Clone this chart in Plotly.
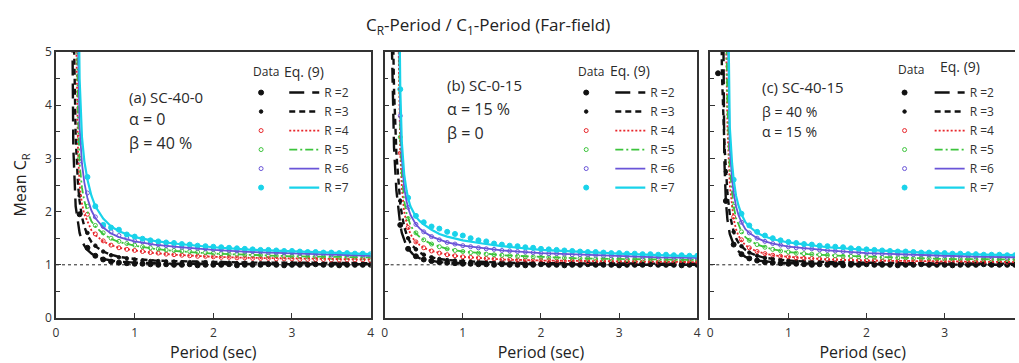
import plotly.graph_objects as go

N = None
FONT = "Open Sans"

# ---------------- data ----------------
PERIOD_LINE = [0.08, 0.1, 0.12, 0.15, 0.18, 0.2, 0.22, 0.25, 0.28, 0.3, 0.33, 0.36, 0.4,
               0.45, 0.5, 0.6, 0.7, 0.8, 1.0, 1.25, 1.5, 2.0, 2.5, 3.0, 3.5, 4.0]
PERIOD_DATA = [0.1, 0.2, 0.3, 0.4, 0.5, 0.6, 0.7, 0.8, 0.9, 1.0,
               1.1, 1.2, 1.3, 1.4, 1.5, 1.6, 1.7, 1.8, 1.9, 2.0,
               2.1, 2.2, 2.3, 2.4, 2.5, 2.6, 2.7, 2.8, 2.9, 3.0,
               3.1, 3.2, 3.3, 3.4, 3.5, 3.6, 3.7, 3.8, 3.9, 4.0]
R_VALUES = [2, 3, 4, 5, 6, 7]
R_LABELS = ["R =2", "R =3", "R =4", "R =5", "R =6", "R =7"]
X_TICKS = [0, 1, 2, 3, 4]
Y_TICKS = [0, 1, 2, 3, 4, 5]
REF_Y = 1.0

# Eq. (9) curves, panel (a) SC-40-0
LINE_A = {
    2: [N, N, N, N, N, 7.0, 3.2, 2.1, 1.75, 1.6, 1.45, 1.36, 1.28, 1.21, 1.17, 1.11, 1.08, 1.06, 1.04, 1.03, 1.02, 1.02, 1.01, 1.01, 1.01, 1.01],
    3: [N, N, N, N, N, N, 6.0, 3.4, 2.5, 2.2, 1.9, 1.72, 1.56, 1.43, 1.35, 1.25, 1.19, 1.15, 1.11, 1.08, 1.07, 1.05, 1.04, 1.04, 1.03, 1.03],
    4: [N, N, N, N, N, N, N, 6.0, 3.1, 2.5, 2.15, 1.95, 1.8, 1.65, 1.56, 1.44, 1.37, 1.32, 1.27, 1.22, 1.19, 1.15, 1.13, 1.12, 1.11, 1.1],
    5: [N, N, N, N, N, N, N, 7.0, 3.8, 2.9, 2.45, 2.2, 2.0, 1.82, 1.72, 1.58, 1.49, 1.43, 1.36, 1.3, 1.26, 1.21, 1.18, 1.16, 1.15, 1.14],
    6: [N, N, N, N, N, N, N, N, 5.2, 3.6, 2.9, 2.55, 2.25, 2.02, 1.88, 1.7, 1.59, 1.52, 1.44, 1.38, 1.34, 1.28, 1.24, 1.21, 1.19, 1.17],
    7: [N, N, N, N, N, N, N, N, 7.0, 4.5, 3.4, 2.95, 2.6, 2.3, 2.1, 1.87, 1.72, 1.63, 1.52, 1.45, 1.4, 1.33, 1.28, 1.25, 1.22, 1.2],
}
# Eq. (9) curves, panel (b) SC-0-15
LINE_B = {
    2: [6.0, 4.2, 3.2, 2.4, 1.95, 1.75, 1.6, 1.45, 1.35, 1.3, 1.24, 1.2, 1.16, 1.12, 1.1, 1.07, 1.05, 1.04, 1.03, 1.02, 1.02, 1.01, 1.01, 1.0, 1.0, 1.0],
    3: [N, 6.0, 4.3, 3.1, 2.45, 2.15, 1.95, 1.72, 1.57, 1.5, 1.41, 1.35, 1.29, 1.23, 1.19, 1.14, 1.11, 1.09, 1.07, 1.05, 1.04, 1.03, 1.03, 1.02, 1.02, 1.02],
    4: [N, N, N, N, 5.0, 3.1, 2.45, 2.0, 1.79, 1.69, 1.58, 1.5, 1.43, 1.37, 1.32, 1.26, 1.22, 1.19, 1.15, 1.12, 1.1, 1.08, 1.07, 1.06, 1.06, 1.05],
    5: [N, N, N, N, 5.5, 3.4, 2.7, 2.2, 1.97, 1.86, 1.75, 1.67, 1.59, 1.52, 1.47, 1.39, 1.34, 1.3, 1.25, 1.21, 1.18, 1.15, 1.12, 1.11, 1.1, 1.09],
    6: [N, N, N, N, 6.0, 3.8, 3.0, 2.45, 2.2, 2.07, 1.94, 1.85, 1.76, 1.68, 1.62, 1.53, 1.47, 1.42, 1.36, 1.31, 1.27, 1.22, 1.19, 1.16, 1.14, 1.13],
    7: [N, N, N, N, 7.0, 4.3, 3.3, 2.7, 2.4, 2.25, 2.1, 2.0, 1.9, 1.82, 1.76, 1.66, 1.58, 1.53, 1.46, 1.4, 1.35, 1.28, 1.24, 1.21, 1.18, 1.16],
}
# Eq. (9) curves, panel (c) SC-40-15
LINE_C = {
    2: [N, N, N, 9.0, 3.0, 2.2, 1.85, 1.58, 1.45, 1.38, 1.3, 1.25, 1.2, 1.15, 1.12, 1.08, 1.06, 1.05, 1.03, 1.02, 1.02, 1.01, 1.01, 1.0, 1.0, 1.0],
    3: [N, N, 9.0, 4.6, 3.3, 2.8, 2.35, 1.95, 1.72, 1.62, 1.5, 1.42, 1.35, 1.28, 1.23, 1.17, 1.13, 1.11, 1.08, 1.06, 1.05, 1.04, 1.03, 1.03, 1.02, 1.02],
    4: [N, N, N, N, N, 5.5, 3.6, 2.5, 2.05, 1.86, 1.67, 1.55, 1.45, 1.37, 1.32, 1.25, 1.21, 1.18, 1.15, 1.12, 1.1, 1.08, 1.07, 1.06, 1.06, 1.05],
    5: [N, N, N, N, N, 6.0, 4.0, 2.8, 2.3, 2.1, 1.88, 1.75, 1.62, 1.52, 1.46, 1.38, 1.33, 1.29, 1.24, 1.2, 1.18, 1.15, 1.13, 1.11, 1.1, 1.1],
    6: [N, N, N, N, N, N, 6.0, 3.2, 2.6, 2.35, 2.1, 1.94, 1.8, 1.67, 1.6, 1.5, 1.44, 1.4, 1.34, 1.3, 1.27, 1.22, 1.19, 1.17, 1.15, 1.14],
    7: [N, N, N, N, N, N, 7.0, 3.6, 2.9, 2.6, 2.3, 2.12, 1.95, 1.8, 1.72, 1.6, 1.53, 1.48, 1.42, 1.37, 1.33, 1.28, 1.24, 1.21, 1.19, 1.18],
}

# Data (mean C_R), panel (a)
DATA_A = {
    2: [N, N, 1.95, 1.32, 1.17, 1.1, 1.06, 1.04, 1.03, 1.02,
        1.02, 1.01, 1.0, 1.01, 1.0, 1.0, 1.01, 0.99, 1.0, 1.0,
        1.0, 1.01, 0.99, 1.0, 1.0, 1.0, 1.01, 1.0, 0.99, 1.0,
        1.0, 1.0, 1.01, 1.0, 1.0, 0.99, 1.0, 1.0, 1.0, 1.0],
    3: [N, N, 2.3, 1.6, 1.36, 1.25, 1.18, 1.14, 1.12, 1.1,
        1.08, 1.07, 1.07, 1.06, 1.06, 1.05, 1.05, 1.04, 1.05, 1.04,
        1.04, 1.04, 1.03, 1.04, 1.03, 1.03, 1.03, 1.03, 1.02, 1.03,
        1.03, 1.02, 1.03, 1.02, 1.02, 1.02, 1.02, 1.02, 1.02, 1.02],
    4: [N, N, 3.4, 1.95, 1.58, 1.45, 1.37, 1.32, 1.29, 1.27,
        1.25, 1.23, 1.22, 1.2, 1.19, 1.18, 1.17, 1.16, 1.16, 1.15,
        1.14, 1.14, 1.13, 1.13, 1.12, 1.12, 1.12, 1.11, 1.11, 1.11,
        1.1, 1.1, 1.1, 1.1, 1.09, 1.09, 1.09, 1.09, 1.09, 1.08],
    5: [N, N, 3.0, 2.1, 1.74, 1.6, 1.5, 1.44, 1.4, 1.37,
        1.34, 1.32, 1.3, 1.28, 1.27, 1.26, 1.25, 1.24, 1.23, 1.22,
        1.21, 1.2, 1.2, 1.19, 1.18, 1.18, 1.17, 1.17, 1.16, 1.16,
        1.16, 1.15, 1.15, 1.15, 1.14, 1.14, 1.14, 1.14, 1.13, 1.13],
    6: [N, N, 2.95, 2.35, 1.9, 1.72, 1.62, 1.55, 1.5, 1.45,
        1.43, 1.4, 1.38, 1.36, 1.35, 1.33, 1.32, 1.31, 1.3, 1.29,
        1.28, 1.27, 1.26, 1.25, 1.25, 1.24, 1.23, 1.23, 1.22, 1.22,
        1.21, 1.21, 1.2, 1.2, 1.19, 1.19, 1.19, 1.18, 1.18, 1.17],
    7: [N, N, 3.3, 2.65, 2.1, 1.75, 1.7, 1.66, 1.57, 1.53,
        1.49, 1.46, 1.44, 1.42, 1.41, 1.39, 1.38, 1.36, 1.35, 1.34,
        1.33, 1.32, 1.31, 1.3, 1.29, 1.28, 1.28, 1.27, 1.26, 1.26,
        1.25, 1.24, 1.24, 1.23, 1.23, 1.22, 1.22, 1.21, 1.21, 1.2],
}
# Data, panel (b)
DATA_B = {
    2: [N, 1.75, 1.3, 1.16, 1.1, 1.07, 1.05, 1.04, 1.03, 1.02,
        1.02, 1.01, 1.01, 1.0, 1.01, 1.0, 1.0, 0.99, 1.0, 1.01,
        1.0, 1.0, 0.99, 1.0, 1.0, 1.01, 1.0, 1.0, 1.0, 0.99,
        1.0, 1.0, 1.0, 1.01, 1.0, 1.0, 1.0, 0.99, 1.0, 1.0],
    3: [N, 2.2, 1.5, 1.29, 1.19, 1.14, 1.11, 1.09, 1.08, 1.07,
        1.06, 1.05, 1.05, 1.04, 1.04, 1.04, 1.03, 1.04, 1.03, 1.03,
        1.03, 1.03, 1.02, 1.03, 1.02, 1.02, 1.02, 1.02, 1.02, 1.02,
        1.02, 1.02, 1.02, 1.01, 1.02, 1.01, 1.02, 1.01, 1.01, 1.01],
    4: [N, 3.1, 1.7, 1.43, 1.32, 1.26, 1.22, 1.19, 1.17, 1.15,
        1.14, 1.13, 1.12, 1.11, 1.1, 1.1, 1.09, 1.09, 1.08, 1.08,
        1.08, 1.07, 1.07, 1.07, 1.07, 1.06, 1.06, 1.06, 1.06, 1.06,
        1.06, 1.05, 1.05, 1.05, 1.05, 1.05, 1.05, 1.05, 1.05, 1.05],
    5: [N, 3.4, 1.87, 1.6, 1.47, 1.39, 1.34, 1.3, 1.27, 1.25,
        1.23, 1.22, 1.2, 1.19, 1.18, 1.17, 1.16, 1.15, 1.15, 1.14,
        1.14, 1.13, 1.13, 1.12, 1.12, 1.12, 1.11, 1.11, 1.11, 1.11,
        1.1, 1.1, 1.1, 1.1, 1.1, 1.09, 1.09, 1.09, 1.09, 1.09],
    6: [N, 3.8, 2.08, 1.76, 1.62, 1.53, 1.47, 1.42, 1.39, 1.36,
        1.34, 1.32, 1.3, 1.29, 1.27, 1.26, 1.25, 1.24, 1.23, 1.22,
        1.21, 1.21, 1.2, 1.19, 1.19, 1.18, 1.18, 1.17, 1.17, 1.16,
        1.16, 1.16, 1.15, 1.15, 1.15, 1.14, 1.14, 1.14, 1.13, 1.13],
    7: [N, 4.3, 2.26, 1.92, 1.8, 1.72, 1.68, 1.62, 1.58, 1.55,
        1.5, 1.46, 1.44, 1.4, 1.38, 1.36, 1.35, 1.33, 1.32, 1.3,
        1.29, 1.28, 1.27, 1.26, 1.25, 1.24, 1.24, 1.23, 1.22, 1.22,
        1.21, 1.21, 1.2, 1.2, 1.19, 1.19, 1.18, 1.18, 1.17, 1.17],
}
# Data, panel (c)
DATA_C = {
    2: [4.6, 2.2, 1.38, 1.2, 1.12, 1.08, 1.05, 1.04, 1.03, 1.02,
        1.02, 1.01, 1.0, 1.01, 1.0, 1.0, 0.99, 1.0, 1.0, 1.01,
        1.0, 1.0, 1.0, 0.99, 1.0, 1.0, 1.01, 1.0, 1.0, 1.0,
        0.99, 1.0, 1.0, 1.0, 1.01, 1.0, 1.0, 1.0, 1.0, 1.0],
    3: [N, 2.75, 1.62, 1.35, 1.23, 1.17, 1.13, 1.11, 1.09, 1.08,
        1.07, 1.06, 1.05, 1.05, 1.04, 1.04, 1.04, 1.03, 1.03, 1.03,
        1.03, 1.03, 1.02, 1.03, 1.02, 1.02, 1.02, 1.02, 1.02, 1.02,
        1.02, 1.02, 1.02, 1.01, 1.02, 1.01, 1.01, 1.01, 1.01, 1.01],
    4: [N, N, 1.9, 1.47, 1.32, 1.25, 1.21, 1.18, 1.16, 1.15,
        1.13, 1.12, 1.12, 1.11, 1.1, 1.1, 1.09, 1.09, 1.08, 1.08,
        1.08, 1.07, 1.07, 1.07, 1.07, 1.06, 1.06, 1.06, 1.06, 1.06,
        1.06, 1.06, 1.05, 1.05, 1.05, 1.05, 1.05, 1.05, 1.05, 1.05],
    5: [N, N, 2.1, 1.62, 1.46, 1.38, 1.33, 1.29, 1.26, 1.24,
        1.22, 1.21, 1.2, 1.19, 1.18, 1.17, 1.16, 1.16, 1.15, 1.15,
        1.14, 1.14, 1.13, 1.13, 1.13, 1.12, 1.12, 1.12, 1.11, 1.11,
        1.11, 1.11, 1.11, 1.1, 1.1, 1.1, 1.1, 1.1, 1.1, 1.1],
    6: [N, N, 2.35, 1.8, 1.6, 1.5, 1.44, 1.4, 1.37, 1.34,
        1.32, 1.31, 1.3, 1.28, 1.27, 1.26, 1.25, 1.24, 1.23, 1.22,
        1.21, 1.21, 1.2, 1.2, 1.19, 1.19, 1.18, 1.18, 1.17, 1.17,
        1.16, 1.16, 1.16, 1.15, 1.15, 1.15, 1.15, 1.14, 1.14, 1.14],
    7: [N, N, 2.6, 1.96, 1.74, 1.62, 1.55, 1.5, 1.46, 1.43,
        1.41, 1.39, 1.38, 1.36, 1.35, 1.34, 1.33, 1.31, 1.3, 1.29,
        1.28, 1.27, 1.26, 1.25, 1.25, 1.24, 1.23, 1.23, 1.22, 1.22,
        1.21, 1.21, 1.2, 1.2, 1.19, 1.19, 1.19, 1.18, 1.18, 1.18],
}

# ---------------- styles ----------------
COLORS = {2: "#111111", 3: "#111111", 4: "#e8262b", 5: "#3cc43c", 6: "#6a55d8", 7: "#19d3ea"}
DASHES = {2: "15px,8px", 3: "6px,4px", 4: "2px,2px", 5: "8px,3px,2px,3px", 6: "solid", 7: "solid"}
WIDTHS = {2: 2.4, 3: 2.4, 4: 1.8, 5: 1.8, 6: 1.8, 7: 2.2}
SYMBOLS = {2: "circle", 3: "circle", 4: "circle-open", 5: "circle-open", 6: "circle-open", 7: "circle"}
MSIZES = {2: 5, 3: 3.5, 4: 4, 5: 4, 6: 4, 7: 5}

PANELS = [
    dict(lines=LINE_A, data=DATA_A, xa="x", ya="y", leg_d="legend", leg_l="legend2"),
    dict(lines=LINE_B, data=DATA_B, xa="x2", ya="y2", leg_d="legend3", leg_l="legend4"),
    dict(lines=LINE_C, data=DATA_C, xa="x3", ya="y3", leg_d="legend5", leg_l="legend6"),
]

fig = go.Figure()
for p in PANELS:
    for r in R_VALUES:
        fig.add_trace(go.Scatter(
            x=PERIOD_DATA, y=p["data"][r], mode="markers", name="",
            xaxis=p["xa"], yaxis=p["ya"], legend=p["leg_d"], showlegend=True,
            marker=dict(symbol=SYMBOLS[r], size=MSIZES[r], color=COLORS[r],
                        line=dict(width=1, color=COLORS[r])),
            hoverinfo="skip"))
    for r, lab in zip(R_VALUES, R_LABELS):
        fig.add_trace(go.Scatter(
            x=PERIOD_LINE, y=p["lines"][r], mode="lines", name=lab,
            xaxis=p["xa"], yaxis=p["ya"], legend=p["leg_l"], showlegend=True,
            line=dict(color=COLORS[r], width=WIDTHS[r], dash=DASHES[r]),
            connectgaps=False, hoverinfo="skip"))

# reference line at C_R = 1
for p in PANELS:
    fig.add_shape(type="line", xref=f"{p['xa']} domain", x0=0, x1=1,
                  yref=p["ya"], y0=REF_Y, y1=REF_Y, layer="below",
                  line=dict(color="#222222", width=1, dash="3px,3px"))

AX = "#333333"
def xaxis(domain, rng, anchor):
    return dict(domain=domain, range=rng, anchor=anchor, tickvals=X_TICKS,
                ticks="inside", ticklen=5, tickwidth=1, tickcolor=AX,
                showline=True, linecolor=AX, linewidth=1.6, mirror=True,
                showgrid=False, zeroline=False,
                tickfont=dict(family=FONT, size=12, color=AX), ticklabelstandoff=3,
                title=dict(text="Period (sec)", font=dict(family=FONT, size=16, color="#222"), standoff=4))

def yaxis(anchor, labels, mirror=True):
    return dict(domain=[0, 1], range=[0, 5.0], anchor=anchor, tickvals=Y_TICKS,
                ticks="inside", ticklen=5, tickwidth=1, tickcolor=AX,
                minor=dict(dtick=0.5, ticks="inside", ticklen=4, tickcolor=AX),
                showline=True, linecolor=AX, linewidth=1.6, mirror=mirror,
                showgrid=False, zeroline=False, showticklabels=labels,
                tickfont=dict(family=FONT, size=12, color=AX))

leg_common = dict(xanchor="left", yanchor="top", bgcolor="rgba(0,0,0,0)",
                  font=dict(family=FONT, size=12, color="#333"), tracegroupgap=0,
                  traceorder="normal", itemclick=False, itemdoubleclick=False)

LEG_Y = 0.902
fig.update_layout(
    width=1019, height=363,
    margin=dict(l=56, r=0, t=52, b=45),
    paper_bgcolor="white", plot_bgcolor="white",
    font=dict(family=FONT, color="#222"),
    title=dict(text="C<sub>R</sub>-Period / C<sub>1</sub>-Period (Far-field)",
               x=0.479, xanchor="center", y=0.93, yanchor="middle",
               font=dict(family=FONT, size=17, color="#222")),
    xaxis=xaxis([0, 0.3281], [0, 4], "y"),
    xaxis2=xaxis([0.3427, 0.6687], [0, 4], "y2"),
    xaxis3=xaxis([0.6822, 1.0], [0, 3.9], "y3"),
    yaxis=dict(yaxis("x", True), title=dict(text="Mean C<sub>R</sub>",
               font=dict(family=FONT, size=16, color="#222"), standoff=14)),
    yaxis2=yaxis("x2", False),
    yaxis3=yaxis("x3", False, mirror=False),
    legend=dict(leg_common, x=0.193, y=LEG_Y),
    legend2=dict(leg_common, x=0.238, y=LEG_Y),
    legend3=dict(leg_common, x=0.532, y=LEG_Y),
    legend4=dict(leg_common, x=0.578, y=LEG_Y),
    legend5=dict(leg_common, x=0.864, y=LEG_Y),
    legend6=dict(leg_common, x=0.911, y=LEG_Y),
    showlegend=True,
)

# panel text
PANEL_TEXT = [
    ("x", "y", [("(a) SC-40-0", 0.225, 0.831, 15), ("\u03b1 = 0", 0.225, 0.748, 16), ("\u03b2 = 40 %", 0.225, 0.658, 16)],
     (0.620, 0.925), (0.718, 0.925)),
    ("x2", "y2", [("(b) SC-0-15", 0.194, 0.876, 15), ("\u03b1 = 15 %", 0.194, 0.786, 16), ("\u03b2 = 0", 0.194, 0.695, 16)],
     (0.611, 0.925), (0.713, 0.929)),
    ("x3", "y3", [("(c) SC-40-15", 0.163, 0.868, 15), ("\u03b2 = 40 %", 0.163, 0.775, 14), ("\u03b1 = 15 %", 0.163, 0.700, 14)],
     (0.611, 0.936), (0.748, 0.944)),
]
for xa, ya, lines, dpos, epos in PANEL_TEXT:
    for txt, x, y, s in lines:
        fig.add_annotation(text=txt, xref=f"{xa} domain", yref=f"{ya} domain", x=x, y=y,
                           xanchor="left", yanchor="middle", showarrow=False,
                           font=dict(family=FONT, size=s, color="#2a2a2a"))
    fig.add_annotation(text="Data", xref=f"{xa} domain", yref=f"{ya} domain", x=dpos[0], y=dpos[1],
                       xanchor="left", yanchor="middle", showarrow=False,
                       font=dict(family=FONT, size=12, color="#2a2a2a"))
    fig.add_annotation(text="Eq. (9)", xref=f"{xa} domain", yref=f"{ya} domain", x=epos[0], y=epos[1],
                       xanchor="left", yanchor="middle", showarrow=False,
                       font=dict(family=FONT, size=14, color="#2a2a2a"))

fig.write_html("out.html")
